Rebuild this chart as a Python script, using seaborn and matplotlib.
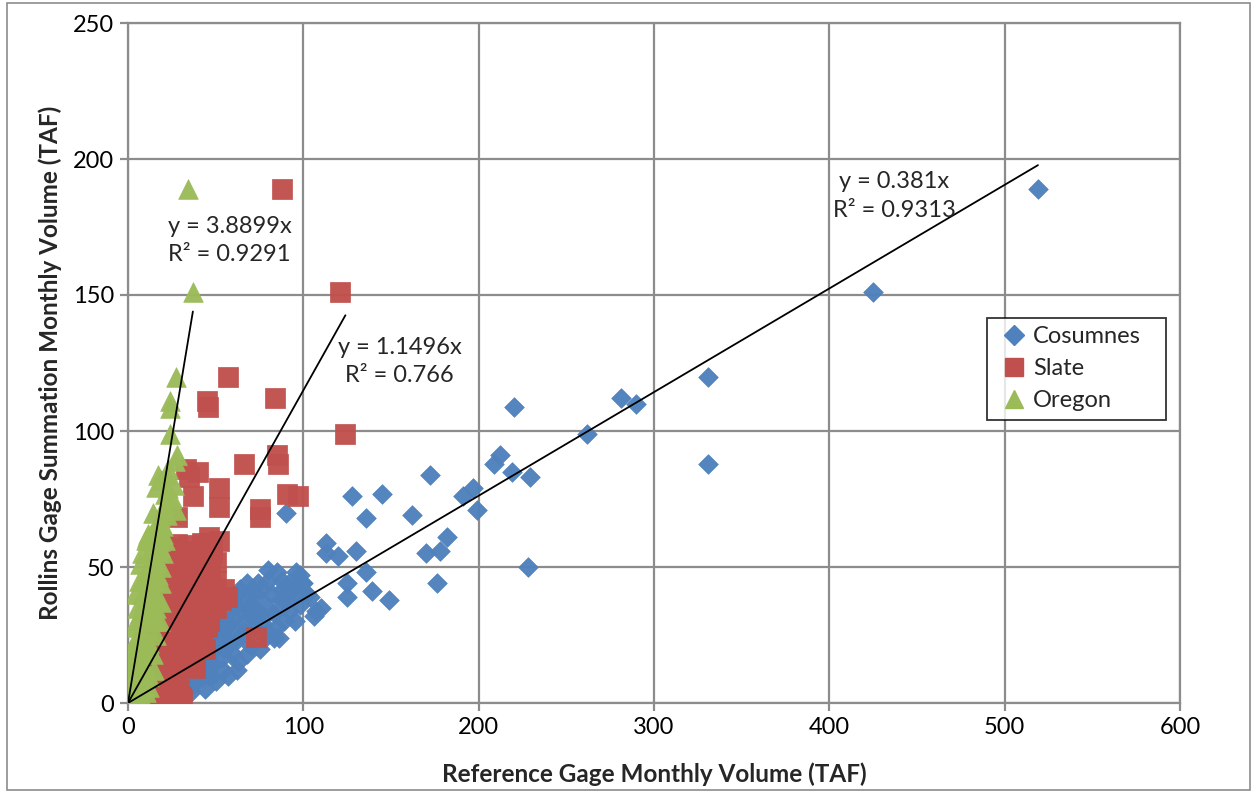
import numpy as np
import pandas as pd
import matplotlib
matplotlib.use("Agg")
import matplotlib.pyplot as plt
import seaborn as sns
from matplotlib.patches import Rectangle
from matplotlib.lines import Line2D

# ---------------- data ----------------
series_names = ["Cosumnes", "Slate", "Oregon"]

cosumnes_x = [519, 425, 331, 331, 281, 290, 262, 220, 229, 228, 219, 212, 209, 172, 197, 191, 199,
              128, 145, 136, 162, 182, 170, 178, 176, 113, 113, 120, 130, 136, 125, 125, 139, 149,
              102, 98, 110, 106, 90,
              80, 96, 71, 64, 88, 96, 87, 104, 107, 73, 81, 58, 50, 47, 66, 56, 85, 83, 86, 52, 62,
              70, 49, 54, 60, 47, 41, 46, 37, 39, 70, 68, 62, 71, 83, 75, 79, 56, 51, 41, 45, 43,
              37, 31, 28, 21, 48, 42, 31, 36, 40, 45, 38, 35, 33, 25, 20, 15, 10, 5, 2, 65, 77, 92,
              58, 54, 63, 75, 90, 99, 66, 44, 30, 27, 17, 12, 8, 4, 1,
              30, 34, 40, 46, 52, 58, 64, 70, 76, 82, 88, 94, 100, 60, 66, 72, 78, 92, 98, 55, 62,
              68, 50, 57, 44, 36, 48, 80, 85, 76, 53, 60, 74, 89, 95]
cosumnes_y = [189, 151, 120, 88, 112, 110, 99, 109, 83, 50, 85, 91, 88, 84, 79, 76, 71,
              76, 77, 68, 69, 61, 55, 56, 44, 59, 55, 54, 56, 48, 44, 39, 41, 38,
              40, 47, 35, 32, 70,
              49, 48, 41.5, 42, 41.5, 40, 38, 39, 34, 34, 34, 34, 37, 32, 30, 28, 28, 24, 24, 24, 23,
              21, 19.5, 17, 18, 15, 13, 10, 8.5, 16, 32, 44, 40, 40, 33, 33, 26, 33, 30, 30, 14.6, 10,
              7, 5, 3, 0.5, 10, 16, 1, 30, 27, 25, 20, 18, 12, 8, 5, 3, 2, 1, 0.5, 25, 29, 44,
              22, 12, 15, 20, 37, 44, 36, 21, 10, 6, 2, 1, 1, 0.3, 0.1,
              15, 20, 22, 28, 33, 38, 35, 36, 38, 40, 45, 42, 44, 28, 26, 28, 24, 34, 36, 20, 12,
              18, 8, 10, 5, 4, 14, 45, 48, 42, 25, 31, 44, 30, 30]

slate_x = [88, 121, 124, 57, 45, 45.5, 84, 85, 85.5, 66, 40, 35, 52, 52, 37, 75, 75, 90.5, 97, 33, 28,
           46, 52, 28, 35, 42, 31, 41, 22, 25,
           56.5, 73, 41, 47, 47, 30, 35, 28, 33, 22, 30, 22, 33, 16, 26, 12.5, 22, 8.7, 30, 44, 38,
           29, 18, 38, 43, 24, 20, 18, 26, 36, 44, 20, 25, 15, 20, 12, 10, 6, 4, 2, 14, 27, 37, 32,
           48, 45, 16, 23, 19, 42, 50, 15, 8, 28, 36, 25, 11, 5,
           20, 24, 30, 34, 38, 44, 48, 21, 27, 32, 39, 45, 50, 18, 23, 29, 34, 40, 17, 22, 26, 31,
           36, 14, 19, 24, 28, 13, 17, 23, 27, 9, 12, 16, 20, 25, 31, 38, 42, 46, 50, 53,
           55, 48]
slate_y = [189, 151, 99, 120, 111, 109, 112, 91, 88, 88, 85, 83, 79, 72, 76, 71.5, 68.5, 77, 76, 86, 68.5,
           61, 59.5, 58.5, 58, 59, 55, 55, 53, 50,
           39, 24.4, 24.4, 43, 48, 45, 40, 33, 29, 26, 21, 16, 15, 11, 8.5, 5, 2.3, 1, 2.3, 20, 13,
           5, 0.5, 36, 32, 40, 35, 28, 47, 50, 50, 44, 30, 20, 12, 14, 8, 3, 1, 0.5, 2, 13, 18, 38,
           36, 28, 25, 55, 48, 45, 52, 16, 6, 25, 26, 0.5, 0.3, 0.2,
           58, 57, 52, 54, 56, 55, 57, 48, 44, 48, 47, 40, 45, 40, 37, 37, 33, 38, 32, 30, 22, 24,
           22, 26, 20, 17, 16, 18, 14, 6, 9, 10, 3, 5, 3, 2, 1, 14, 25, 30, 35, 38,
           42, 55]

oregon_x = [34, 37, 27.4, 24, 24, 24, 28, 27, 17, 22, 23, 25, 27.5, 21, 23, 16, 20, 18, 20,
            11.5, 10, 18, 18, 15.4, 17, 10.6, 7, 15.4, 19, 11.6, 8, 17, 13.5, 6, 11.6, 4, 9.7, 2, 8,
            0.5, 4, 1, 2, 4, 14, 12, 9, 15, 6, 3, 5, 1, 3, 6, 7, 10, 12, 9, 14, 20, 5, 2, 0.5, 1,
            3, 6, 8, 10, 12, 5,
            13, 16, 19, 14, 22, 12, 16, 19, 8, 10, 13, 17, 6, 9, 13, 16, 19, 4, 7, 11, 15, 3, 8,
            12, 14, 5, 10, 2, 12, 7, 4, 9, 15, 16, 18, 20, 21, 19, 21, 26]
oregon_y = [189, 151, 120, 111, 108.5, 99, 91, 89, 84, 84, 86, 75.5, 71, 73, 79, 79.5, 71, 68.5, 65,
            62, 60, 59.6, 57.5, 54, 56, 61, 51, 49, 44, 43, 40, 38, 33, 30.5, 27, 23, 19.5, 17, 13,
            9.7, 7, 3, 1, 3, 40, 35, 30, 45, 25, 20, 15, 12, 10, 8, 18, 22, 50, 46, 57, 62, 35, 5, 1,
            0.5, 2, 5, 2, 4, 6, 0.5,
            62, 64, 66, 70, 69, 55, 52, 50, 55, 48, 47, 47, 45, 37, 38, 35, 37, 40, 33, 31, 30, 28, 25,
            22, 18, 19, 13, 13, 10, 9, 4, 6, 12, 25, 30, 55, 60, 82, 77, 80]

trend_slopes = [0.381, 1.1496, 3.8899]
trend_r2 = ["0.9313", "0.766", "0.9291"]
trend_slope_labels = ["0.381", "1.1496", "3.8899"]

x_ticks = [0, 100, 200, 300, 400, 500, 600]
y_ticks = [0, 50, 100, 150, 200, 250]

x_label = "Reference Gage Monthly Volume (TAF)"
y_label = "Rollins Gage Summation Monthly Volume (TAF)"

colors = ["#4F81BD", "#C0504D", "#9BBB59"]
markers = ["D", "s", "^"]
sizes = [100, 200, 200]

# ---------------- plotting ----------------
sns.set_theme(style="white")
plt.rcParams["font.family"] = ["Lato", "DejaVu Sans"]

fig = plt.figure(figsize=(12.53, 7.92), dpi=100)
ax = fig.add_axes([128 / 1253, 1 - 703 / 792, (1180 - 128) / 1253, (703 - 23) / 792])

xs = [cosumnes_x, slate_x, oregon_x]
ys = [cosumnes_y, slate_y, oregon_y]

for name, x, y, c, m, s in zip(series_names, xs, ys, colors, markers, sizes):
    df = pd.DataFrame({"x": x, "y": y})
    sns.scatterplot(data=df, x="x", y="y", ax=ax, color=c, marker=m, s=s,
                    edgecolor=c, linewidth=0.5, alpha=0.97, zorder=3, legend=False)

# trendlines through origin
for x, slope in zip(xs, trend_slopes):
    xm = max(x)
    ax.plot([0, xm], [0, slope * xm], color="black", lw=1.3, zorder=4)

# trendline labels
label_pos = [(437, 186.5), (155, 125.5), (58, 170)]
for (lx, ly), sl, r2 in zip(label_pos, trend_slope_labels, trend_r2):
    ax.text(lx, ly, f"y = {sl}x\nR² = {r2}", ha="center", va="center",
            multialignment="center", fontsize=17, linespacing=1.45, zorder=5)

ax.set_xlim(0, 600)
ax.set_ylim(0, 250)
ax.set_xticks(x_ticks)
ax.set_yticks(y_ticks)
ax.grid(True, color="#8C8C8C", lw=1.6, zorder=0)
ax.set_axisbelow(True)
for sp in ax.spines.values():
    sp.set_color("#8C8C8C")
    sp.set_linewidth(1.6)
ax.tick_params(axis="both", direction="out", length=6, width=1.6, color="#8C8C8C",
               labelsize=17, labelcolor="black", pad=4, bottom=True, left=True)

ax.set_xlabel(x_label, fontsize=17.5, fontweight="bold", labelpad=18)
ax.set_ylabel(y_label, fontsize=17.5, fontweight="bold", labelpad=8)

handles = [Line2D([0], [0], marker=m, color="none", markerfacecolor=c, markeredgecolor=c,
                  markersize=ms, label=n)
           for n, c, m, ms in zip(series_names, colors, markers, [10, 13, 13])]
lx0 = (987 - 128) / 1052
ly1 = 1 - (318 - 23) / 680
lw_ = (1166 - 987) / 1052
leg = ax.legend(handles=handles, loc="upper left", bbox_to_anchor=(lx0, ly1 - 0.15, lw_, 0.15),
                mode="expand", frameon=True, fancybox=False, edgecolor="black", fontsize=17,
                handletextpad=0.05, borderpad=0.35, labelspacing=0.47, handlelength=1.55,
                borderaxespad=0)
leg.get_frame().set_linewidth(1.3)

# outer chart border
fig.patches.append(Rectangle((7 / 1253, 2 / 792), (1250 - 7) / 1253, (789 - 2) / 792,
                             transform=fig.transFigure, fill=False, edgecolor="#8C8C8C", lw=1.2))

fig.savefig("out.png", dpi=100)
